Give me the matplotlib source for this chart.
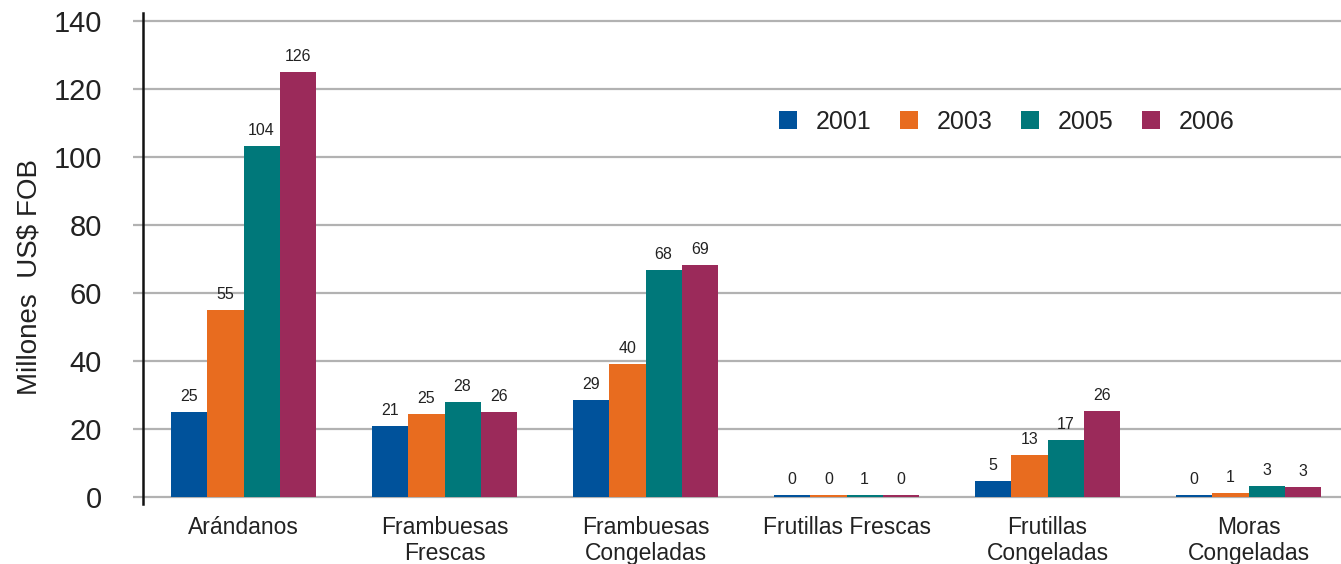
import numpy as np
import matplotlib.pyplot as plt

plt.rcParams['font.family'] = ['Liberation Sans', 'DejaVu Sans']

# Data
categories = ["Arándanos", "Frambuesas\nFrescas", "Frambuesas\nCongeladas",
              "Frutillas Frescas", "Frutillas\nCongeladas", "Moras\nCongeladas"]
years = ["2001", "2003", "2005", "2006"]
values_2001 = [25.0, 20.9, 28.5, 0.6, 4.7, 0.6]
values_2003 = [55.0, 24.4, 39.1, 0.6, 12.4, 1.2]
values_2005 = [103.2, 27.9, 66.8, 0.6, 16.8, 3.2]
values_2006 = [125.0, 25.0, 68.2, 0.6, 25.3, 2.9]
labels_2001 = ["25", "21", "29", "0", "5", "0"]
labels_2003 = ["55", "25", "40", "0", "13", "1"]
labels_2005 = ["104", "28", "68", "1", "17", "3"]
labels_2006 = ["126", "26", "69", "0", "26", "3"]

series = [values_2001, values_2003, values_2005, values_2006]
series_labels = [labels_2001, labels_2003, labels_2005, labels_2006]
colors = ["#00529B", "#E86C1F", "#00787A", "#9B2A5A"]

fig = plt.figure(figsize=(13.41, 5.64), dpi=100)
ax = fig.add_axes([143 / 1341, 60 / 564, 1 - 143 / 1341, 491 / 564])

x = np.arange(len(categories))
width = 0.18
for i, (vals, labs) in enumerate(zip(series, series_labels)):
    pos = x + (i - 1.5) * width
    bars = ax.bar(pos, vals, width, color=colors[i], label=years[i], zorder=3)
    for b, lab in zip(bars, labs):
        ax.annotate(lab, (b.get_x() + b.get_width() / 2, b.get_height()),
                    xytext=(0, 6), textcoords="offset points",
                    ha="center", va="bottom", fontsize=11.5, color="#222222")

ax.set_xlim(-0.5, 5.46)
ax.set_ylim(-2, 142.4)
ax.set_yticks(np.arange(0, 141, 20))
ax.set_xticks(x)
ax.set_xticklabels(categories, fontsize=16.5, color="#222222", linespacing=1.12)
ax.tick_params(axis="x", length=0, pad=9)
ax.tick_params(axis="y", length=7.5, width=1.6, color="#B2B2B2", pad=22,
               labelsize=21, labelcolor="#222222")
ax.yaxis.grid(True, color="#B2B2B2", linewidth=1.6, zorder=0)
ax.set_axisbelow(True)

for s in ["top", "right", "bottom"]:
    ax.spines[s].set_visible(False)
ax.spines["left"].set_linewidth(1.8)
ax.spines["left"].set_color("#111111")

ax.set_ylabel("Millones  US$ FOB", fontsize=20, color="#222222")
ax.yaxis.set_label_coords(-0.0835, 0.462)

ax.legend(loc="center", bbox_to_anchor=(0.721, 0.778), ncol=4, frameon=False,
          fontsize=18, handlelength=0.72, handleheight=0.72,
          handletextpad=0.75, columnspacing=1.15, labelcolor="#222222")

fig.savefig("out.png", dpi=100)
